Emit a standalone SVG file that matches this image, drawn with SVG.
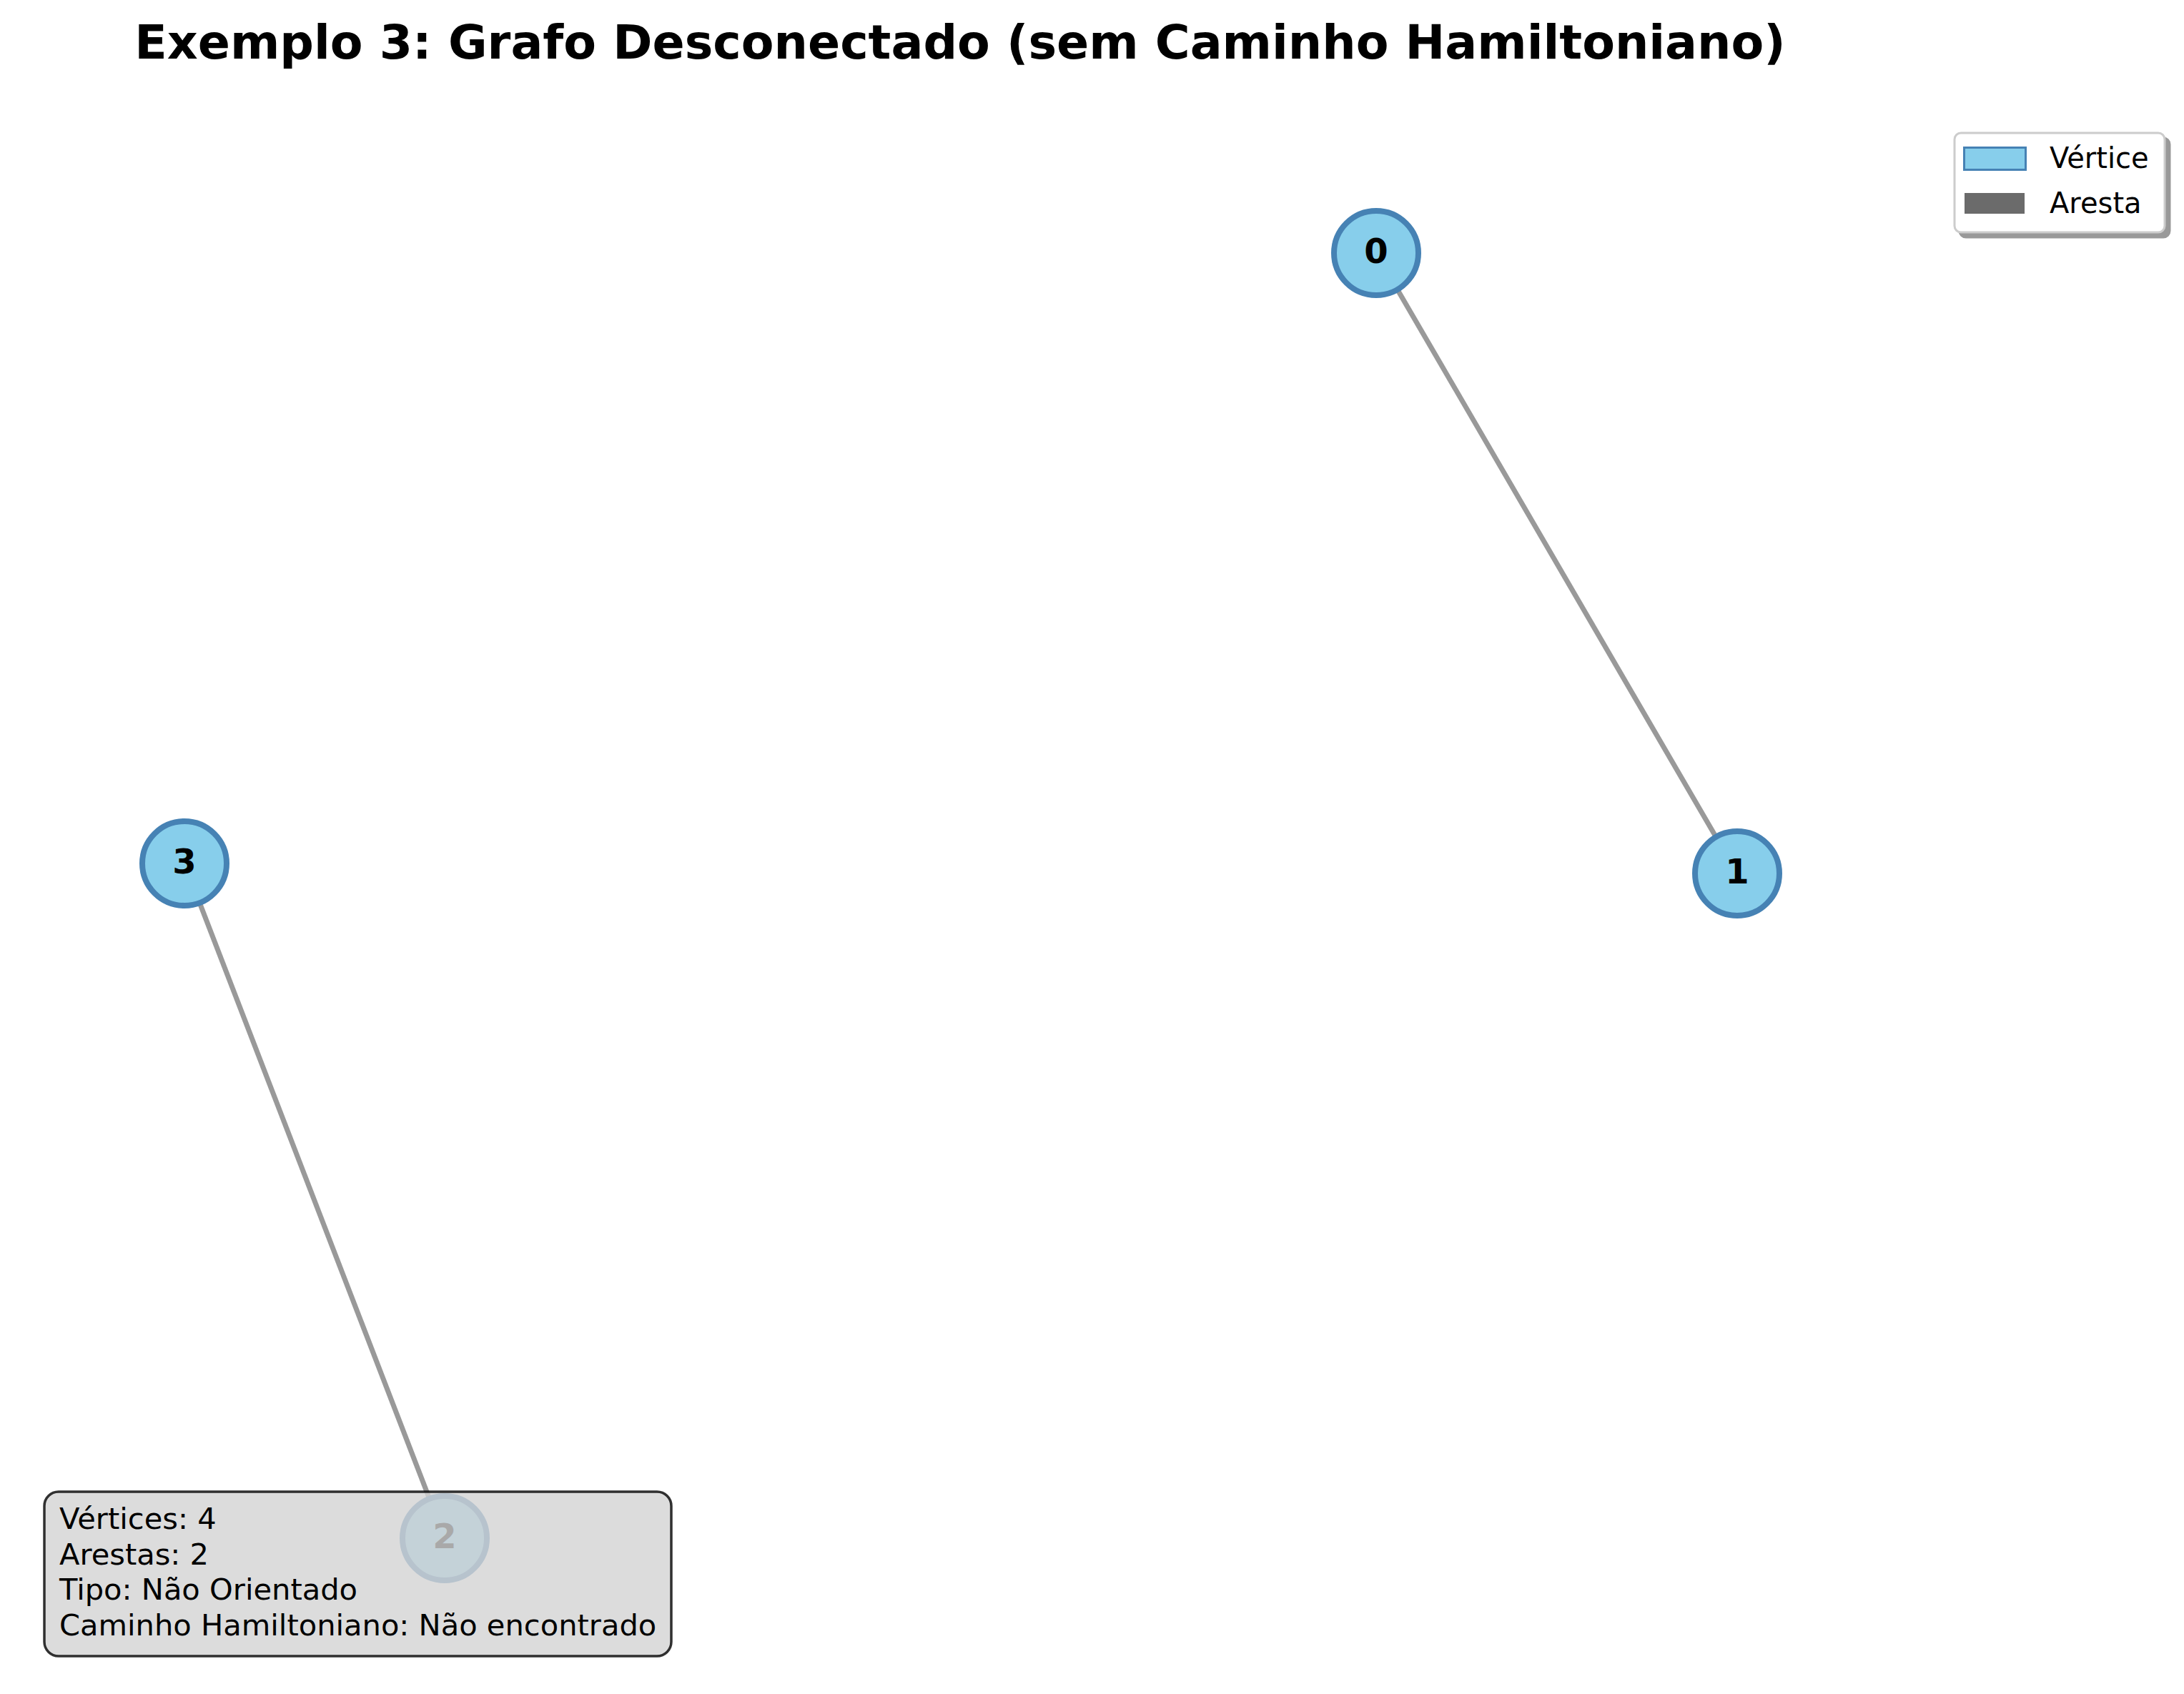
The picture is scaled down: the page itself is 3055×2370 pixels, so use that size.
<svg xmlns="http://www.w3.org/2000/svg" width="3055" height="2370" viewBox="0 0 3055 2370">
<style>
.edge{stroke:#999999;stroke-width:7;stroke-linecap:butt}
.node circle{fill:#87CEEB;stroke:#4682B4;stroke-width:8}
.node text{font-family:"DejaVu Sans",sans-serif;font-weight:bold;font-size:48px;text-anchor:middle;fill:#000}
.info{font-family:"DejaVu Sans",sans-serif;font-size:41.6px;fill:#000}
.leg{font-family:"DejaVu Sans",sans-serif;font-size:40px;fill:#000}
</style>
<rect width="3055" height="2370" fill="#ffffff"/>
<g id="connectors">
<line class="edge" x1="1925" y1="354" x2="2430" y2="1222"/>
<line class="edge" x1="258" y1="1208" x2="622" y2="2152"/>
</g>
<g id="node0" class="node"><circle cx="1925" cy="354" r="59"/><text x="1925" y="368">0</text></g>
<g id="node1" class="node"><circle cx="2430" cy="1222" r="59"/><text x="2430" y="1236">1</text></g>
<g id="node2" class="node"><circle cx="622" cy="2152" r="59"/><text x="622" y="2166">2</text></g>
<g id="node3" class="node"><circle cx="258" cy="1208" r="59"/><text x="258" y="1222">3</text></g>
<g id="infobox">
<rect x="62" y="2087" width="877" height="230" rx="20" ry="20" fill="#d3d3d3" fill-opacity="0.8" stroke="#000" stroke-opacity="0.8" stroke-width="3.5"/>
<text class="info" x="83" y="2139">Vértices: 4</text>
<text class="info" x="83" y="2188.5">Arestas: 2</text>
<text class="info" x="83" y="2238">Tipo: Não Orientado</text>
<text class="info" x="83" y="2287.5">Caminho Hamiltoniano: Não encontrado</text>
</g>
<g id="legend">
<rect x="2741" y="193" width="294" height="139" rx="9" ry="9" fill="#999999" stroke="#999999" stroke-width="3"/>
<rect x="2734" y="186" width="294" height="139" rx="9" ry="9" fill="#ffffff" stroke="#cccccc" stroke-width="3"/>
<rect x="2747.5" y="206.5" width="86" height="31" fill="#87CEEB" stroke="#4682B4" stroke-width="3"/>
<rect x="2748" y="270" width="84" height="29" fill="#6b6b6b"/>
<text class="leg" x="2867" y="235">Vértice</text>
<text class="leg" x="2867" y="298">Aresta</text>
</g>
<text id="title" x="1343" y="82" font-family="DejaVu Sans, sans-serif" font-weight="bold" font-size="66.6" text-anchor="middle" fill="#000">Exemplo 3: Grafo Desconectado (sem Caminho Hamiltoniano)</text>
</svg>
